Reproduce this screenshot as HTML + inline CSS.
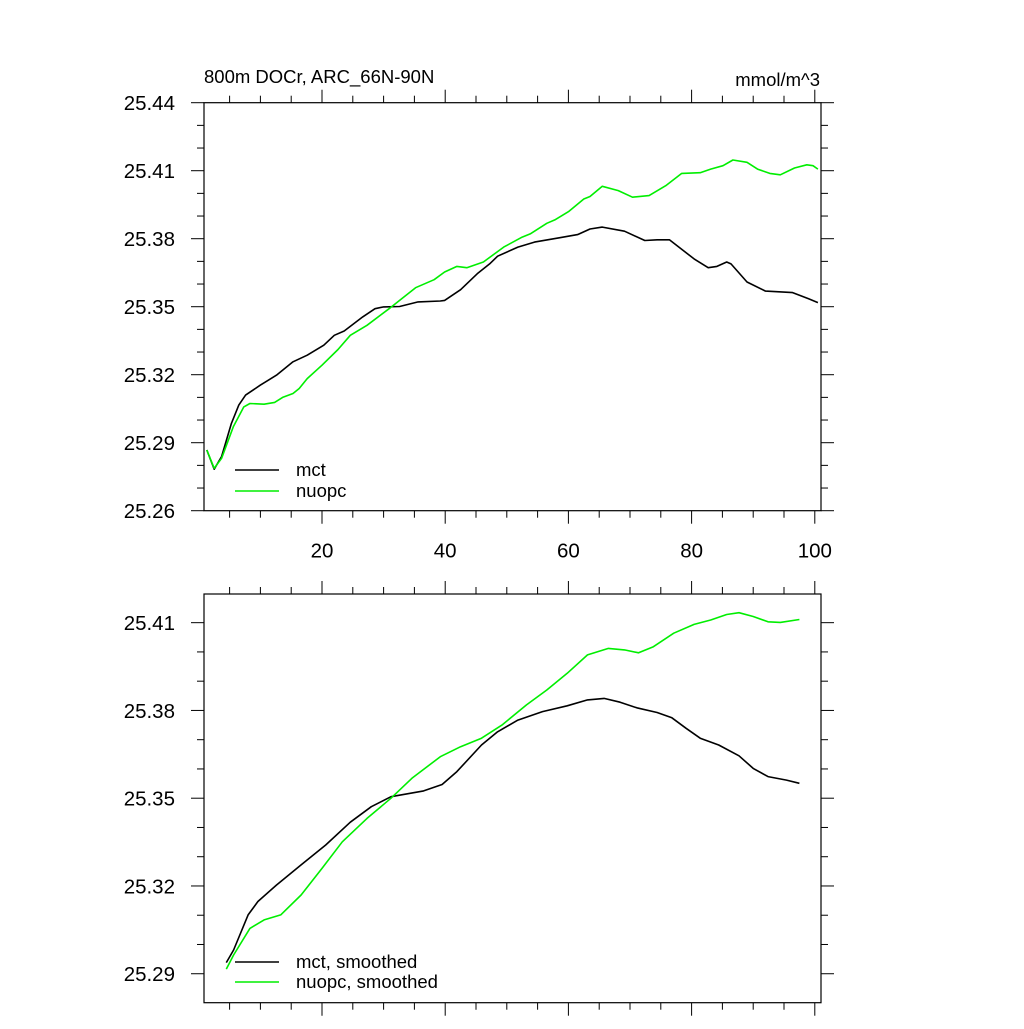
<!DOCTYPE html>
<html><head><meta charset="utf-8"><style>
body{margin:0;background:#fff}
svg text{font-family:"Liberation Sans",Arial,sans-serif;fill:#000}
</style></head><body>
<svg id="c" width="1024" height="1024" viewBox="0 0 1024 1024"></svg>
<script>
const topMctX=[1.3,2.5,3.7,5.3,6.5,7.6,10,12.6,15.3,17.6,20.3,22,23.6,26.6,28.6,30,32.6,35.6,39.2,39.9,42.5,45.2,47.2,48.5,51.8,54.5,58.5,61.5,63.5,65.5,69.1,72.4,74.4,76.4,80.4,82.7,84.1,85.7,86.4,89,92,96.4,99,100.5];
const topMctY=[25.2868,25.2783,25.2839,25.2985,25.3066,25.3110,25.3154,25.3198,25.3257,25.3286,25.3330,25.3374,25.3393,25.3455,25.3491,25.3499,25.3501,25.3521,25.3525,25.3528,25.3575,25.3645,25.3689,25.3723,25.3763,25.3785,25.3804,25.3818,25.3843,25.3851,25.3833,25.3792,25.3795,25.3795,25.3711,25.3672,25.3678,25.3697,25.3689,25.3609,25.3569,25.3562,25.3535,25.3518];
const topNuX=[1.3,2.5,3.7,5.6,7.3,8.3,10.6,12.3,13.6,15.3,16.3,17.6,20,22.6,24.6,27.3,30.9,32.6,35.2,38.2,39.9,41.9,43.5,46.2,49.5,52.5,53.8,56.5,57.8,60.1,62.5,63.5,65.5,68.1,70.4,73.1,75.8,78.4,81.4,83.1,85.1,86.7,89,90.7,92.7,94.4,96.7,98.7,99.7,100.5];
const topNuY=[25.2868,25.2787,25.2831,25.2970,25.3058,25.3073,25.3070,25.3078,25.3100,25.3117,25.3139,25.3183,25.3242,25.3311,25.3374,25.3418,25.3491,25.3528,25.3584,25.3619,25.3653,25.3678,25.3672,25.3697,25.3763,25.3807,25.3821,25.3868,25.3883,25.3921,25.3975,25.3986,25.4031,25.4012,25.3983,25.3990,25.4034,25.4088,25.4091,25.4107,25.4122,25.4147,25.4137,25.4107,25.4088,25.4082,25.4112,25.4126,25.4122,25.4107];
const botMctX=[4.46,5.65,8,9.6,12.6,16.6,20.6,24.6,28,31.2,36.5,39.5,41.9,45.9,48.5,51.8,55.8,59.8,63.1,65.8,68.4,71.1,74.4,76.8,79.1,81.4,84.4,87.7,90,92.4,95.4,97.5];
const botMctY=[25.2938,25.2981,25.3101,25.3147,25.3203,25.3272,25.3340,25.3418,25.3471,25.3505,25.3525,25.3547,25.3591,25.3682,25.3727,25.3767,25.3796,25.3816,25.3836,25.3841,25.3828,25.3809,25.3793,25.3775,25.3739,25.3705,25.3682,25.3645,25.3602,25.3574,25.3562,25.3551];
const botNuX=[4.46,5.65,8.3,10.6,13.3,16.6,20,23.3,27.3,31.2,34.6,39.2,42.5,45.9,49.2,53.2,56.5,59.8,63.1,66.5,69.1,71.4,73.8,77.1,80.4,83.1,85.7,87.7,90,92.4,94.4,97.5];
const botNuY=[25.2916,25.2964,25.3055,25.3084,25.3101,25.3169,25.3260,25.3351,25.3431,25.3500,25.3568,25.3642,25.3676,25.3705,25.3750,25.3819,25.3870,25.3927,25.3990,25.4012,25.4007,25.3997,25.4018,25.4064,25.4094,25.4109,25.4128,25.4134,25.4121,25.4103,25.4101,25.4111];
const xTickVals=[20,40,60,80,100];
const topYTicks=["25.26","25.29","25.32","25.35","25.38","25.41","25.44"];
const botYTicks=["25.29","25.32","25.35","25.38","25.41"];

const NS="http://www.w3.org/2000/svg";
const svg=document.getElementById('c');
function el(t,a,p){const e=document.createElementNS(NS,t);for(const k in a)e.setAttribute(k,a[k]);(p||svg).appendChild(e);return e;}
const L=204,R=821;
function xs(v){return 322+(v-20)*6.16;}
function panel(name,top,bot,ymin,ymax,yTicks,showX){
  const g=el('g',{});
  
  
  const ys=v=>bot-(v-ymin)/(ymax-ymin)*(bot-top);
  const fr=el('rect',{x:L,y:top,width:R-L,height:bot-top,fill:'none',stroke:'#000','stroke-width':1.2},g);
  
  
  for(let v=5;v<=100;v+=5){
    const x=xs(v),maj=v%20===0,len=maj?13:7;
    el('line',{x1:x,y1:top,x2:x,y2:top-len,stroke:'#000','stroke-width':1},g);
    el('line',{x1:x,y1:bot,x2:x,y2:bot+len,stroke:'#000','stroke-width':1},g);
  }
  if(showX){xTickVals.forEach(v=>{const t=el('text',{x:xs(v),y:bot+47,'font-size':20.5,'text-anchor':'middle'},g);t.textContent=v;
    
    });}
  for(let k=Math.ceil(ymin*100-1e-6);k<=Math.floor(ymax*100+1e-6);k++){
    const v=k/100,y=ys(v),maj=(k-2526)%3===0,len=maj?13:7;
    el('line',{x1:L,y1:y,x2:L-len,y2:y,stroke:'#000','stroke-width':1},g);
    el('line',{x1:R,y1:y,x2:R+len,y2:y,stroke:'#000','stroke-width':1},g);
  }
  yTicks.forEach(s=>{const t=el('text',{x:175,y:ys(parseFloat(s))+7.5,'font-size':20.5,'text-anchor':'end'},g);t.textContent=s;
    
    });
  return {g,ys};
}
function series(p,X,Y,color,name){
  const d=X.map((x,i)=>(i?'L':'M')+xs(x).toFixed(1)+','+p.ys(Y[i]).toFixed(1)).join('');
  const e=el('path',{d,fill:'none',stroke:color,'stroke-width':1.6,'stroke-linejoin':'round'},p.g);
  
  
}
function legend(p,y,color,label,name){
  const g=el('g',{},p.g);
  
  
  el('line',{x1:235,y1:y,x2:279,y2:y,stroke:color,'stroke-width':1.6},g);
  const t=el('text',{x:296,y:y+6,'font-size':18.5},g);t.textContent=label;
}
const p1=panel('top-panel',102.7,510.7,25.26,25.44,topYTicks,true);
series(p1,topMctX,topMctY,'#000','mct-line');
series(p1,topNuX,topNuY,'#00ee00','nuopc-line');
legend(p1,470,'#000','mct','legend-mct');
legend(p1,491,'#00ee00','nuopc','legend-nuopc');
const p2=panel('bottom-panel',594,1002.7,25.2801,25.4198,botYTicks,false);
series(p2,botMctX,botMctY,'#000','mct-smoothed-line');
series(p2,botNuX,botNuY,'#00ee00','nuopc-smoothed-line');
legend(p2,962,'#000','mct, smoothed','legend-mct-smoothed');
legend(p2,982,'#00ee00','nuopc, smoothed','legend-nuopc-smoothed');
const t1=el('text',{x:204,y:83,'font-size':18.5});t1.textContent='800m DOCr, ARC_66N-90N';


const t2=el('text',{x:820,y:86,'font-size':18.5,'text-anchor':'end'});t2.textContent='mmol/m^3';


</script>
</body></html>
